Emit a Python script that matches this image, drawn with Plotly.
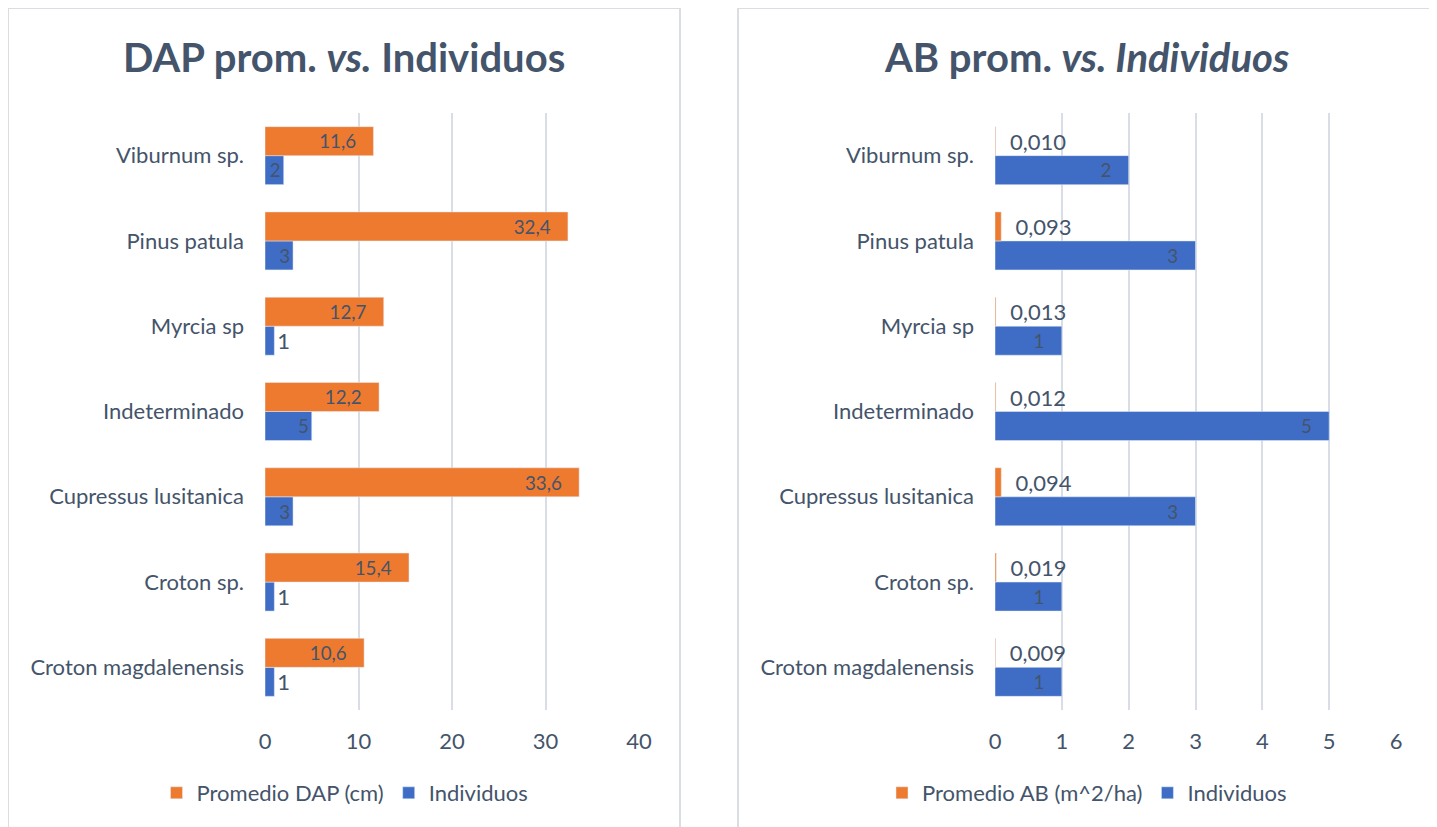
import plotly.graph_objects as go

# species, bottom to top as in the chart
especies = ["Croton magdalenensis", "Croton sp.", "Cupressus lusitanica", "Indeterminado",
            "Myrcia sp", "Pinus patula", "Viburnum sp."]
individuos = [1, 1, 3, 5, 1, 3, 2]
dap_prom = [10.6, 15.4, 33.6, 12.2, 12.7, 32.4, 11.6]
ab_prom = [0.009, 0.019, 0.094, 0.012, 0.013, 0.093, 0.010]
ticks_dap = [0, 10, 20, 30, 40]
ticks_ab = [0, 1, 2, 3, 4, 5, 6]

W, H = 1437, 827
naranja = "#EE7A30"
azul = "#3F6DC6"
gris_txt = "#44546A"
rejilla = "#D9DEE6"
fuente = "Lato, Carlito, Calibri, sans-serif"
tam = 22

# page body adds an 8px margin, so positions are shifted back by 8
def px(x):
    return (x - 8) / W


def py(y):
    return 1 - (y - 8) / H


def coma(v, d):
    return f"{v:.{d}f}".replace(".", ",")


fig = go.Figure()

# left chart: DAP vs individuos
fig.add_trace(go.Bar(
    y=especies, x=individuos, orientation="h", name="Individuos",
    marker_color=azul, xaxis="x", yaxis="y", legend="legend", legendrank=2,
    text=[str(v) for v in individuos],
    textposition=["outside" if v < 2 else "inside" for v in individuos],
    insidetextanchor="end", textangle=0, cliponaxis=False,
    textfont=dict(color=gris_txt, size=tam, family=fuente),
))
fig.add_trace(go.Bar(
    y=especies, x=dap_prom, orientation="h", name="Promedio DAP (cm)",
    marker_color=naranja, xaxis="x", yaxis="y", legend="legend", legendrank=1,
    text=[coma(v, 1) + "   " for v in dap_prom], textposition="inside",
    insidetextanchor="end", textangle=0,
    textfont=dict(color=gris_txt, size=tam, family=fuente),
))

# right chart: AB vs individuos
fig.add_trace(go.Bar(
    y=especies, x=individuos, orientation="h", name="Individuos",
    marker_color=azul, xaxis="x2", yaxis="y2", legend="legend2", legendrank=2,
    text=[str(v) + "   " for v in individuos], textposition="inside",
    insidetextanchor="end", textangle=0,
    textfont=dict(color=gris_txt, size=tam, family=fuente),
))
fig.add_trace(go.Bar(
    y=especies, x=ab_prom, orientation="h", name="Promedio AB (m^2/ha)",
    marker_color=naranja, xaxis="x2", yaxis="y2", legend="legend2", legendrank=1,
    text=["  " + coma(v, 3) for v in ab_prom], textposition="outside",
    textangle=0, cliponaxis=False,
    textfont=dict(color=gris_txt, size=tam, family=fuente),
))

eje_x = dict(showgrid=True, gridcolor=rejilla, gridwidth=2, zeroline=False,
             showline=False, ticks="", ticklabelstandoff=16, automargin=False,
             tickfont=dict(size=tam, color=gris_txt, family=fuente))
eje_y = dict(type="category", categoryorder="array", categoryarray=especies,
             showgrid=False, zeroline=False, showline=False, ticks="",
             ticklabelstandoff=20, automargin=False,
             tickfont=dict(size=tam, color=gris_txt, family=fuente))

ydom = [py(710), py(113)]

fig.update_layout(
    width=W, height=H,
    margin=dict(l=0, r=0, t=0, b=0, autoexpand=False),
    paper_bgcolor="white", plot_bgcolor="white",
    barmode="group", bargap=0.32, bargroupgap=0,
    font=dict(family=fuente, color=gris_txt),
    xaxis=dict(eje_x, domain=[px(265), px(639)], range=[0, 40], tickvals=ticks_dap, anchor="y"),
    yaxis=dict(eje_y, domain=ydom, anchor="x"),
    xaxis2=dict(eje_x, domain=[px(995), px(1396)], range=[0, 6], tickvals=ticks_ab, anchor="y2"),
    yaxis2=dict(eje_y, domain=ydom, anchor="x2"),
    legend=dict(orientation="h", x=px(345), xanchor="center", y=py(793), yanchor="middle",
                font=dict(size=tam, color=gris_txt, family=fuente)),
    legend2=dict(orientation="h", x=px(1087), xanchor="center", y=py(793), yanchor="middle",
                 font=dict(size=tam, color=gris_txt, family=fuente)),
    annotations=[
        dict(text="<b>DAP prom. <i>vs.</i> Individuos</b>", x=px(344), y=py(57),
             xref="paper", yref="paper", showarrow=False, xanchor="center", yanchor="middle",
             font=dict(size=40, color=gris_txt, family=fuente)),
        dict(text="<b>AB prom. <i>vs. Individuos</i></b>", x=px(1086), y=py(57),
             xref="paper", yref="paper", showarrow=False, xanchor="center", yanchor="middle",
             font=dict(size=40, color=gris_txt, family=fuente)),
    ],
    shapes=[
        dict(type="rect", xref="paper", yref="paper", x0=px(8), x1=px(680),
             y0=-0.05, y1=py(8), line=dict(color="#DADDE2", width=2)),
        dict(type="rect", xref="paper", yref="paper", x0=px(738), x1=px(1433),
             y0=-0.05, y1=py(8), line=dict(color="#DADDE2", width=2)),
    ],
)

fig.write_html("out.html")
